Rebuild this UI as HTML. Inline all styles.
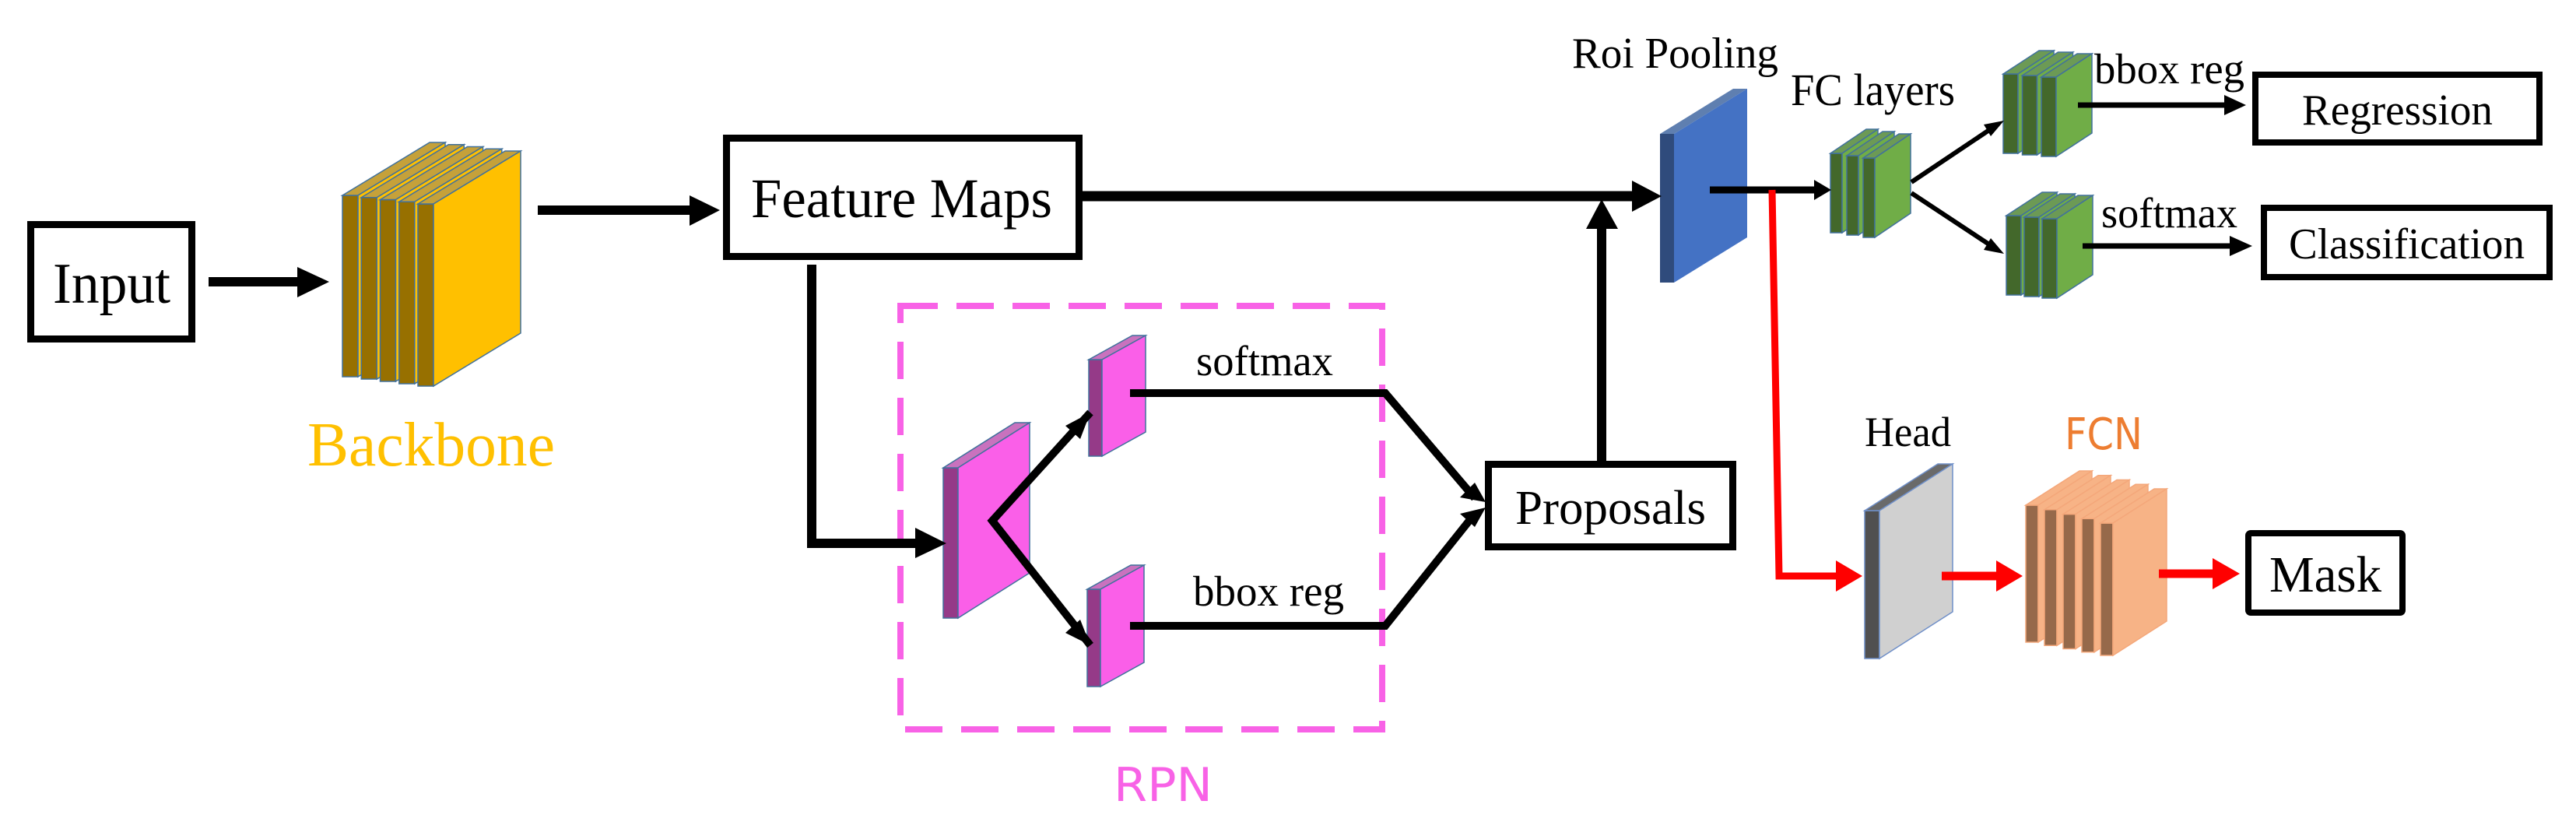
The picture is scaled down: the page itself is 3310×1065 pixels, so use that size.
<!DOCTYPE html>
<html><head><meta charset="utf-8">
<style>
html,body{margin:0;padding:0;background:#fff;}
svg{display:block;}
text{font-family:"Liberation Serif",serif;fill:#000;}
.sans{font-family:"DejaVu Sans","Liberation Sans",sans-serif;}
</style></head>
<body>
<svg id="s" width="3310" height="1065" viewBox="0 0 3310 1065" xmlns="http://www.w3.org/2000/svg">
<rect width="3310" height="1065" fill="#fff"/>
<g id="slabs"></g>

<!-- boxes -->
<g fill="none" stroke="#000" stroke-width="9">
<rect x="39.5" y="288.5" width="207" height="147"/>
<rect x="933.5" y="177.5" width="453" height="152"/>
<rect x="1912.5" y="596.5" width="314" height="106"/>
<rect x="2898" y="96" width="365" height="87" stroke-width="8"/>
<rect x="2909" y="267" width="367" height="89" stroke-width="8"/>
<rect x="2889" y="685" width="198" height="102" stroke-width="8" rx="3"/>
</g>

<!-- RPN dashed box -->
<rect x="1157" y="393" width="619" height="544" fill="none" stroke="#F862E6" stroke-width="8" stroke-dasharray="48,24"/>

<!-- black connectors -->
<g stroke="#000" fill="none">
<line x1="268" y1="362" x2="386" y2="362" stroke-width="12"/>
<line x1="691" y1="270" x2="889" y2="270" stroke-width="12"/>
<polyline points="1043,340 1043,698 1180,698" stroke-width="12"/>
<line x1="1391" y1="252" x2="2099" y2="252" stroke-width="13"/>
<line x1="2058" y1="592" x2="2058" y2="292" stroke-width="12"/>
<polyline points="1401,530 1275,669 1401,829" stroke-width="10" stroke-linejoin="miter"/>
<polyline points="1452,505 1780,505 1895,640" stroke-width="10"/>
<polyline points="1452,804 1780,804 1895,660" stroke-width="10"/>
<line x1="2197" y1="244" x2="2333" y2="244" stroke-width="9"/>
<line x1="2456" y1="234" x2="2562" y2="163" stroke-width="6"/>
<line x1="2456" y1="248" x2="2562" y2="318" stroke-width="6"/>
<line x1="2670" y1="135" x2="2862" y2="135" stroke-width="7"/>
<line x1="2676" y1="316" x2="2869" y2="316" stroke-width="7"/>
</g>
<g fill="#000">
<polygon points="382,343 423,362 382,382"/>
<polygon points="886,251 925,270 886,290"/>
<polygon points="1176,678 1216,698 1176,717"/>
<polygon points="2097,232 2135,252 2097,272"/>
<polygon points="2038,294 2058,256 2079,294"/>
<polygon points="2331,231 2353,244 2331,257"/>
<!-- rpn arrowheads -->
<polygon points="1401,530 1388,564 1369,547"/>
<polygon points="1401,829 1369,813 1388,796"/>
<polygon points="1909,645 1876,639 1895,620"/>
<polygon points="1909,652 1895,677 1876,660"/>
<polygon points="2575,155 2558,175 2549,160"/>
<polygon points="2575,326 2549,321 2558,306"/>
<polygon points="2858,122 2886,135 2858,148"/>
<polygon points="2865,303 2894,316 2865,329"/>
</g>

<!-- red connectors -->
<g stroke="#FF0000" fill="none">
<polyline points="2277,244 2286,740 2362,740" stroke-width="9"/>
<line x1="2495" y1="740" x2="2568" y2="740" stroke-width="11"/>
<line x1="2774" y1="737" x2="2846" y2="737" stroke-width="11"/>
</g>
<g fill="#FF0000">
<polygon points="2359,720 2393,740 2359,760"/>
<polygon points="2565,720 2599,740 2565,760"/>
<polygon points="2843,717 2878,737 2843,757"/>
</g>

<!-- labels -->
<text x="68" y="389" font-size="74" textLength="151" lengthAdjust="spacingAndGlyphs">Input</text>
<text x="395" y="598" font-size="80" fill="#FFC000" style="fill:#FFC000" textLength="318" lengthAdjust="spacingAndGlyphs">Backbone</text>
<text x="965" y="279" font-size="72" textLength="387" lengthAdjust="spacingAndGlyphs">Feature Maps</text>
<text x="1537" y="482" font-size="55" textLength="176" lengthAdjust="spacingAndGlyphs">softmax</text>
<text x="1533" y="778" font-size="55" textLength="194" lengthAdjust="spacingAndGlyphs">bbox reg</text>
<text class="sans" x="1431" y="1029" font-size="60" style="fill:#F862E6" textLength="127" lengthAdjust="spacingAndGlyphs">RPN</text>
<text x="1947" y="673" font-size="62" textLength="245" lengthAdjust="spacingAndGlyphs">Proposals</text>
<text x="2020" y="87" font-size="56" textLength="265" lengthAdjust="spacingAndGlyphs">Roi Pooling</text>
<text x="2301" y="135" font-size="58" textLength="211" lengthAdjust="spacingAndGlyphs">FC layers</text>
<text x="2691" y="107" font-size="55" textLength="193" lengthAdjust="spacingAndGlyphs">bbox reg</text>
<text x="2700" y="292" font-size="55" textLength="175" lengthAdjust="spacingAndGlyphs">softmax</text>
<text x="2958" y="160" font-size="56" textLength="245" lengthAdjust="spacingAndGlyphs">Regression</text>
<text x="2941" y="332" font-size="56" textLength="303" lengthAdjust="spacingAndGlyphs">Classification</text>
<text x="2396" y="573" font-size="54" textLength="111" lengthAdjust="spacingAndGlyphs">Head</text>
<text class="sans" x="2653" y="577" font-size="56" style="fill:#ED7D31" textLength="100" lengthAdjust="spacingAndGlyphs">FCN</text>
<text x="2916" y="760" font-size="66" textLength="144" lengthAdjust="spacingAndGlyphs">Mask</text>
</svg>
<script>
(function(){
var g=document.getElementById('slabs');var NS='http://www.w3.org/2000/svg';
function poly(pts,fill,stroke){var p=document.createElementNS(NS,'polygon');p.setAttribute('points',pts.map(function(a){return a[0]+','+a[1]}).join(' '));p.setAttribute('fill',fill);if(stroke){p.setAttribute('stroke',stroke);p.setAttribute('stroke-width','1.5');}g.appendChild(p);}
function slab(x,yt,yb,w,dx,dy,dark,top,face,st){
 poly([[x,yt],[x+w,yt],[x+w,yb],[x,yb]],dark,st);
 poly([[x,yt],[x+dx,yt-dy],[x+w+dx,yt-dy],[x+w,yt]],top,st);
 poly([[x+w,yt],[x+w+dx,yt-dy],[x+w+dx,yb-dy],[x+w,yb]],face,st);
}
var i;
for(i=0;i<5;i++) slab(440+24.25*i,251+2.75*i,484+3*i,20,112,68,'#977000','#C5A13A','#FFC000','#41719C');
slab(1212,601,794,19,92,58,'#953A88','#C972BE','#FA5FE8','#41719C');
slab(1399,462,586,17,56,31,'#953A88','#C972BE','#FA5FE8','#41719C');
slab(1397,757,882,17,56,31,'#953A88','#C972BE','#FA5FE8','#41719C');
slab(2133,172,363,18,94,58,'#2F4B7C','#5F7FB0','#4472C4',null);
for(i=0;i<3;i++) slab(2352+21*i,197+3*i,299+3*i,15,46,31,'#43682B','#6C9A55','#70AD47','#41719C');
for(i=0;i<3;i++) slab(2574+24.5*i,95+2*i,197+2*i,19,46,30,'#43682B','#6C9A55','#70AD47','#41719C');
for(i=0;i<3;i++) slab(2578+23*i,277+2*i,379+2*i,19,46,30,'#43682B','#6C9A55','#70AD47','#41719C');
slab(2396,656,846,19,94,60,'#505050','#6A6A6A','#D0D0D0','#6F8FC8');
for(i=0;i<5;i++) slab(2603+24*i,649+5.75*i,825+4.25*i,16,69,44,'#96694A','#F7B386','#F7B386','#F4A77A');
})();
</script>
</body></html>
